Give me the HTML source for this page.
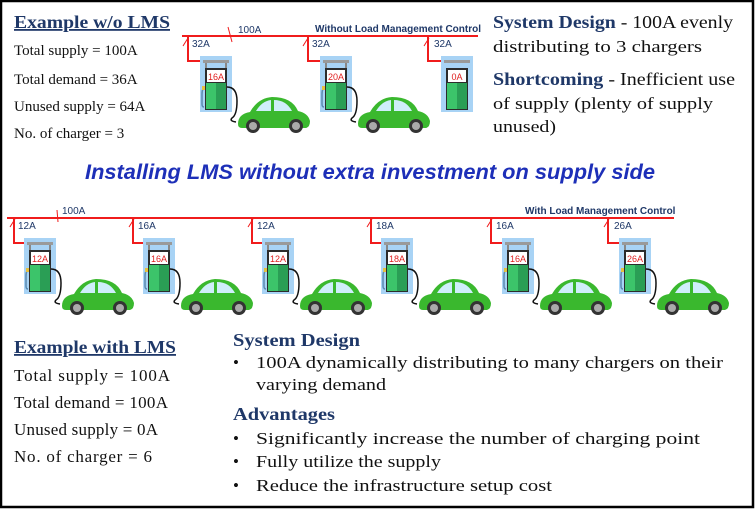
<!DOCTYPE html>
<html><head><meta charset="utf-8"><style>
body{margin:0;width:755px;height:509px;overflow:hidden;background:#fff}
svg{display:block}
.s{font-family:"Liberation Serif",serif;fill:#111}
.h{font-family:"Liberation Serif",serif;font-weight:bold;fill:#1f3868}
.a{font-family:"Liberation Sans",sans-serif;font-size:10px;fill:#1f3868}
</style></head><body>
<svg width="755" height="509" viewBox="0 0 755 509">
<defs>
<g id="p">
<rect x="0" y="0" width="32" height="56" fill="#a8d3f5"/>
<rect x="3" y="4" width="26" height="3" fill="#9a9a9a"/>
<rect x="5" y="7" width="2" height="6" fill="#888"/><rect x="25" y="7" width="2" height="6" fill="#888"/>
<rect x="5" y="12" width="22" height="42" fill="#2c2c2c"/>
<rect x="7" y="14" width="18" height="12" fill="#fff"/>
<rect x="6" y="27" width="10" height="26" fill="#3cc46a"/>
<rect x="16" y="27" width="10" height="26" fill="#2a9e55"/>
<path d="M5 32 q-3 0 -3 6 v10 q0 3 2 3" stroke="#5a8ab0" stroke-width="1.5" fill="none"/>
<rect x="2" y="30" width="3" height="4" fill="#e5c040"/>
<path d="M27 31 q10 0 10 14 q0 14 -5 17 q-3 3 4 4" stroke="#111" stroke-width="1.5" fill="none"/>
<path d="M38 68 q0 -10 12 -12 q8 -14 22 -15 q20 0 26 14 q10 2 12 10 q0 6 -4 7 h-64 q-4 0 -4 -4z" fill="#3ab82e"/>
<path d="M56 55 q6 -10 15 -11 l0 11z" fill="#cfeefa"/><path d="M74 44 q12 0 18 11 h-18z" fill="#cfeefa"/>
<circle cx="53" cy="70" r="7" fill="#333"/><circle cx="53" cy="70" r="4" fill="#aaa"/>
<circle cx="96" cy="70" r="7" fill="#333"/><circle cx="96" cy="70" r="4" fill="#aaa"/>
</g>
</defs>
<rect x="1" y="1" width="752" height="506" fill="none" stroke="#000" stroke-width="2.5"/>
<g stroke="#f01c1c" stroke-width="2" fill="none">
<path d="M182 36 H478"/>
<path d="M188 36 V61 H200 M308 36 V61 H320 M428 36 V61 H441"/>
<path d="M228 27 l4 15" stroke-width="1"/><path d="M183 46 l5 -8 M303 46 l5 -8 M424 46 l5 -8" stroke-width="1"/>
<path d="M7 218 H674"/>
<path d="M14 218 V243 H24 M133 218 V243 H143 M252 218 V243 H262 M371 218 V243 H381 M491 218 V243 H502 M608 218 V243 H619"/>
<path d="M57 210 l1 12" stroke-width="1"/>
<path d="M10 227 l5 -8 M129 227 l5 -8 M248 227 l5 -8 M367 227 l5 -8 M487 227 l5 -8 M604 227 l5 -8" stroke-width="1"/>
</g>
<text class="a" x="238" y="33">100A</text>
<text class="a" x="315" y="32" font-weight="bold" font-size="9.5">Without Load Management Control</text>
<text class="a" x="192" y="47">32A</text><text class="a" x="312" y="47">32A</text><text class="a" x="434" y="47">32A</text>
<text class="a" x="62" y="214">100A</text>
<text class="a" x="525" y="214" font-weight="bold" font-size="9.5">With Load Management Control</text>
<text class="a" x="18" y="229">12A</text><text class="a" x="138" y="229">16A</text><text class="a" x="257" y="229">12A</text>
<text class="a" x="376" y="229">18A</text><text class="a" x="496" y="229">16A</text><text class="a" x="614" y="229">26A</text>
<g font-family="Liberation Sans,sans-serif" font-size="9" fill="#e02020" text-anchor="middle">
<use href="#p" x="200" y="56"/><text x="216" y="80">16A</text>
<use href="#p" x="320" y="56"/><text x="336" y="80">20A</text>
<g transform="translate(441,56)"><rect x="0" y="0" width="32" height="56" fill="#a8d3f5"/><rect x="3" y="4" width="26" height="3" fill="#9a9a9a"/><rect x="5" y="12" width="22" height="42" fill="#2c2c2c"/><rect x="7" y="14" width="18" height="12" fill="#fff"/><rect x="6" y="27" width="10" height="26" fill="#3cc46a"/><rect x="16" y="27" width="10" height="26" fill="#2a9e55"/></g><text x="457" y="80">0A</text>
<use href="#p" x="24" y="238"/><text x="40" y="262">12A</text>
<use href="#p" x="143" y="238"/><text x="159" y="262">16A</text>
<use href="#p" x="262" y="238"/><text x="278" y="262">12A</text>
<use href="#p" x="381" y="238"/><text x="397" y="262">18A</text>
<use href="#p" x="502" y="238"/><text x="518" y="262">16A</text>
<use href="#p" x="619" y="238"/><text x="635" y="262">26A</text>
</g>
<text class="h" x="14" y="28" font-size="18" text-decoration="underline" textLength="156" lengthAdjust="spacingAndGlyphs">Example w/o LMS</text>
<g class="s" font-size="15"><text x="14" y="55">Total supply = 100A</text><text x="14" y="84">Total demand = 36A</text><text x="14" y="111">Unused supply = 64A</text><text x="14" y="138">No. of charger = 3</text></g>
<text x="493" y="28" font-size="18" class="s" textLength="240" lengthAdjust="spacingAndGlyphs"><tspan class="h">System Design</tspan> - 100A evenly</text>
<text x="493" y="52" font-size="17" class="s" textLength="209" lengthAdjust="spacingAndGlyphs">distributing to 3 chargers</text>
<text x="493" y="85" font-size="18" class="s" textLength="242" lengthAdjust="spacingAndGlyphs"><tspan class="h">Shortcoming</tspan> - Inefficient use</text>
<text x="493" y="109" font-size="17" class="s" textLength="220" lengthAdjust="spacingAndGlyphs">of supply (plenty of supply</text>
<text x="493" y="132" font-size="17" class="s" textLength="63" lengthAdjust="spacingAndGlyphs">unused)</text>
<text x="85" y="179" textLength="570" lengthAdjust="spacingAndGlyphs" font-family="Liberation Sans,sans-serif" font-weight="bold" font-style="italic" font-size="21" fill="#1d2fb8">Installing LMS without extra investment on supply side</text>
<text class="h" x="14" y="353" font-size="18" text-decoration="underline" textLength="162" lengthAdjust="spacingAndGlyphs">Example with LMS</text>
<g class="s" font-size="17" lengthAdjust="spacingAndGlyphs"><text x="14" y="381" textLength="156">Total supply = 100A</text><text x="14" y="408" textLength="154">Total demand = 100A</text><text x="14" y="435" textLength="144">Unused supply = 0A</text><text x="14" y="462" textLength="138">No. of charger = 6</text></g>
<text class="h" x="233" y="346" font-size="18" textLength="127" lengthAdjust="spacingAndGlyphs">System Design</text>
<g class="s" font-size="17">
<text x="233" y="368">•</text><text x="256" y="368" textLength="467" lengthAdjust="spacingAndGlyphs">100A dynamically distributing to many chargers on their</text>
<text x="256" y="390" textLength="130" lengthAdjust="spacingAndGlyphs">varying demand</text>
<text x="233" y="444">•</text><text x="256" y="444" textLength="444" lengthAdjust="spacingAndGlyphs">Significantly increase the number of charging point</text>
<text x="233" y="467">•</text><text x="256" y="467" textLength="185" lengthAdjust="spacingAndGlyphs">Fully utilize the supply</text>
<text x="233" y="491">•</text><text x="256" y="491" textLength="296" lengthAdjust="spacingAndGlyphs">Reduce the infrastructure setup cost</text>
</g>
<text class="h" x="233" y="420" font-size="18" textLength="102" lengthAdjust="spacingAndGlyphs">Advantages</text>
</svg>
</body></html>
